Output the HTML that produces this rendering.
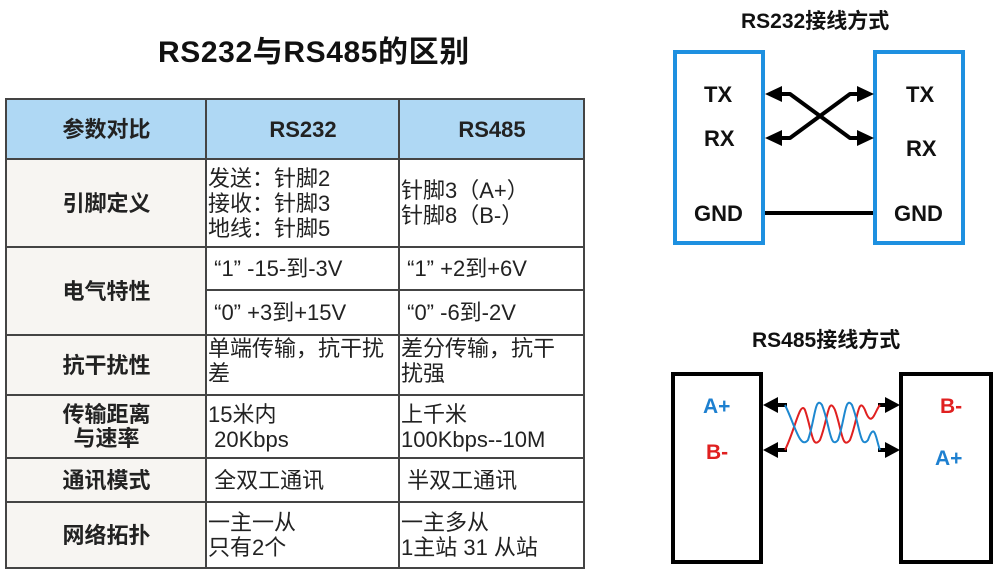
<!DOCTYPE html>
<html><head><meta charset="utf-8"><style>
body{margin:0;width:1000px;height:576px;background:#fff;position:relative;overflow:hidden;font-family:"Liberation Sans","Noto Sans CJK SC",sans-serif;}
.t{position:absolute;white-space:nowrap;}
table{position:absolute;left:5px;top:98px;border-collapse:collapse;table-layout:fixed;width:580px;}
td{border:2px solid #444;font-size:22px;color:#222;padding:0 0 0 1px;line-height:25px;vertical-align:middle;white-space:nowrap;overflow:hidden;}
td.h{font-weight:bold;text-align:center;background:#f7f5f2;}
tr.hd td{background:#afd8f4;font-weight:bold;text-align:center;}
</style></head><body>
<div class="t" style="left:158px;top:27px;font-size:30px;font-weight:bold;color:#111;letter-spacing:0.6px;">RS232与RS485的区别</div>
<table>
<colgroup><col style="width:200px"><col style="width:193px"><col style="width:185px"></colgroup>
<tr class="hd" style="height:60px"><td>参数对比</td><td>RS232</td><td>RS485</td></tr>
<tr style="height:88px"><td class="h">引脚定义</td><td>发送：针脚2<br>接收：针脚3<br>地线：针脚5</td><td>针脚3（A+）<br>针脚8（B-）</td></tr>
<tr style="height:43px"><td class="h" rowspan="2">电气特性</td><td>&nbsp;“1”&nbsp;-15-到-3V</td><td>&nbsp;“1”&nbsp;+2到+6V</td></tr>
<tr style="height:45px"><td>&nbsp;“0”&nbsp;+3到+15V</td><td>&nbsp;“0”&nbsp;-6到-2V</td></tr>
<tr style="height:60px"><td class="h">抗干扰性</td><td style="vertical-align:top">单端传输，抗干扰<br>差</td><td style="vertical-align:top">差分传输，抗干<br>扰强</td></tr>
<tr style="height:63px"><td class="h" style="line-height:24px">传输距离<br>与速率</td><td>15米内<br>&nbsp;20Kbps</td><td>上千米<br>100Kbps--10M</td></tr>
<tr style="height:44px"><td class="h">通讯模式</td><td>&nbsp;全双工通讯</td><td>&nbsp;半双工通讯</td></tr>
<tr style="height:66px"><td class="h">网络拓扑</td><td>一主一从<br>只有2个</td><td>一主多从<br>1主站 31 从站</td></tr>
</table>
<div class="t" style="left:741px;top:5px;font-size:21px;font-weight:bold;color:#111;">RS232接线方式</div>
<div class="t" style="left:752px;top:324px;font-size:21px;font-weight:bold;color:#111;">RS485接线方式</div>
<svg style="position:absolute;left:0;top:0" width="1000" height="576">
<rect x="675" y="52" width="88" height="191" fill="none" stroke="#1e90e0" stroke-width="4"/>
<rect x="875" y="52" width="88" height="191" fill="none" stroke="#1e90e0" stroke-width="4"/>
<g font-family="Liberation Sans" font-weight="bold" font-size="22" fill="#111">
<text x="704" y="102">TX</text><text x="704" y="146">RX</text><text x="694" y="221">GND</text>
<text x="906" y="102">TX</text><text x="906" y="156">RX</text><text x="894" y="221">GND</text>
</g>
<g stroke="#000" stroke-width="4" fill="none" stroke-linejoin="round">
<path d="M778,94 L790,94 L850,138 L862,138"/>
<path d="M778,138 L790,138 L850,94 L862,94"/>
<path d="M765,213 L873,213"/>
</g>
<g fill="#000">
<polygon points="765,94 782,86 782,102"/>
<polygon points="765,138 782,130 782,146"/>
<polygon points="874,94 857,86 857,102"/>
<polygon points="874,138 857,130 857,146"/>
</g>
<rect x="673" y="374" width="88" height="188" fill="none" stroke="#000" stroke-width="4"/>
<rect x="901" y="374" width="90" height="188" fill="none" stroke="#000" stroke-width="4"/>
<g stroke="#000" stroke-width="4"><path d="M775,405 L787,405 M775,450 L787,450 M878,405 L890,405 M878,450 L890,450"/></g>
<g fill="#000">
<polygon points="763,405 778,397 778,413"/>
<polygon points="763,450 778,442 778,458"/>
<polygon points="900,405 885,397 885,413"/>
<polygon points="900,450 885,442 885,458"/>
</g>
<path d="M785,450 C795,430 800,400 805,410 C812,430 812,450 820,440 C828,420 828,395 835,410 C842,430 842,450 850,440 C858,420 858,395 865,410 C872,430 875,410 880,405" stroke="#e02020" stroke-width="2" fill="none"/>
<path d="M785,405 C795,425 800,450 808,440 C815,420 815,395 822,405 C830,425 830,450 838,440 C845,420 845,395 852,405 C860,425 860,450 868,440 C875,420 876,440 880,450" stroke="#1e88d0" stroke-width="2" fill="none"/>
<g font-family="Liberation Sans" font-weight="bold" font-size="21">
<text x="703" y="413" fill="#1e80d0">A+</text><text x="706" y="459" fill="#e02020">B-</text>
<text x="940" y="413" fill="#e02020">B-</text><text x="935" y="465" fill="#1e80d0">A+</text>
</g>
</svg>
</body></html>
